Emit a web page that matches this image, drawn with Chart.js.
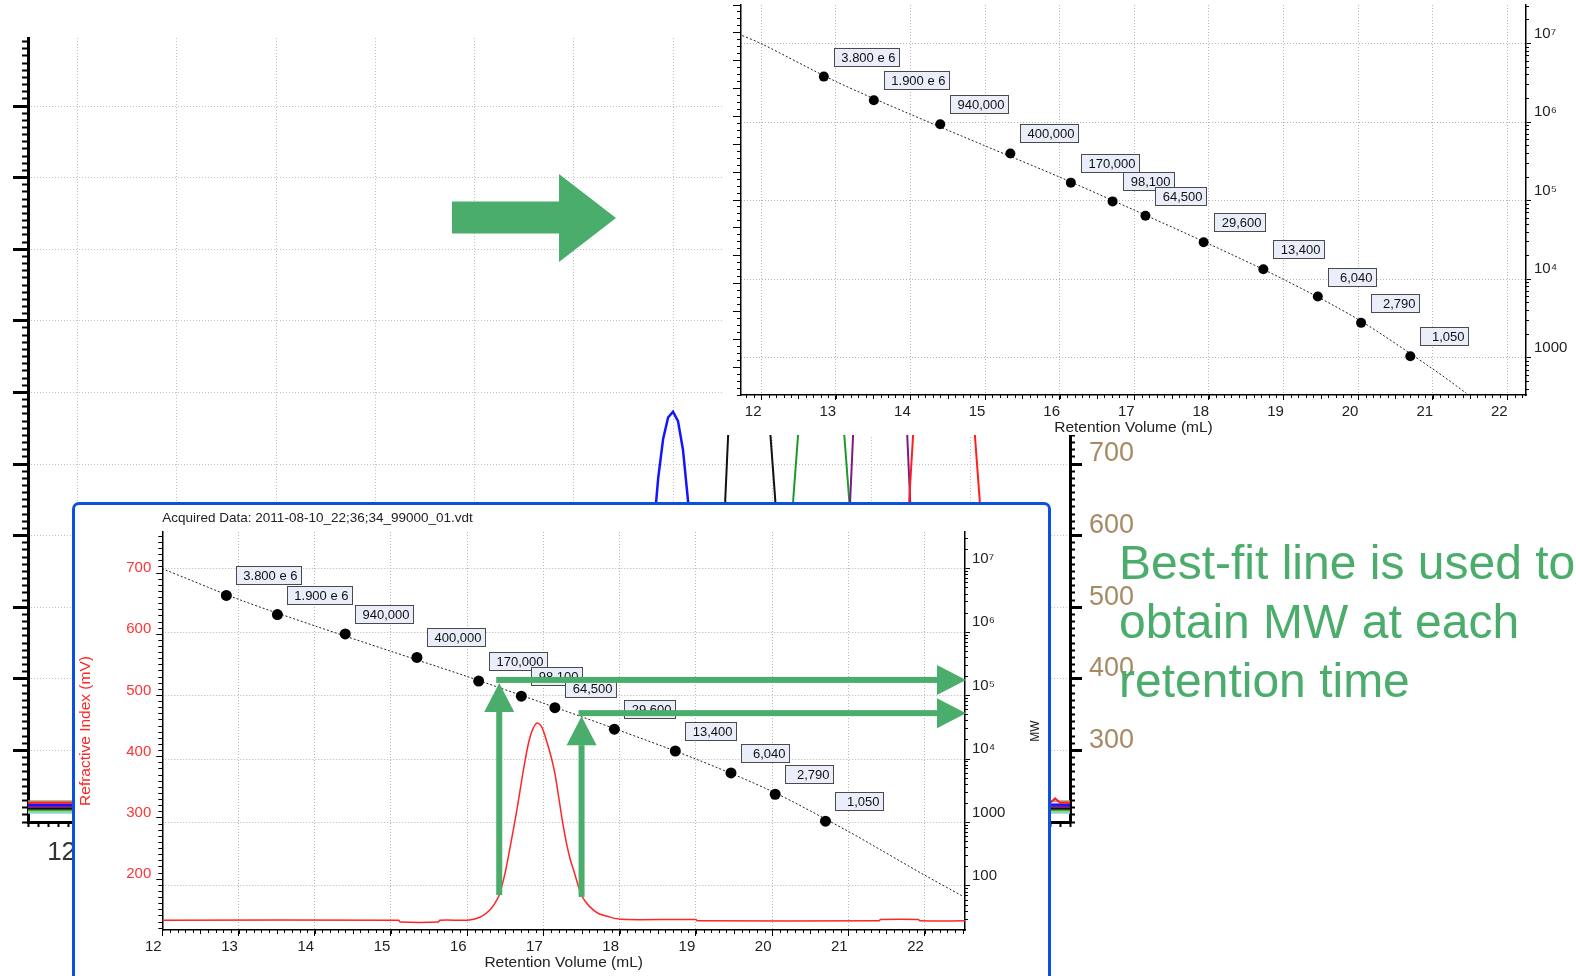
<!DOCTYPE html>
<html><head><meta charset="utf-8">
<script src="https://cdn.jsdelivr.net/npm/chart.js@4.4.1/dist/chart.umd.min.js"></script>
<style>
html,body{margin:0;padding:0;background:#fff;}
body{width:1576px;height:976px;position:relative;overflow:hidden;font-family:"Liberation Sans",Arial,sans-serif;}
.abs{position:absolute;}
</style></head><body>
<canvas id="bg" class="abs" style="left:0;top:0" width="1576" height="976"></canvas>
<svg class="abs" style="left:0;top:0" width="1576" height="976"><polygon points="452,201.5 559,201.5 559,174 616,218 559,262 559,233.5 452,233.5" fill="#4bad6b"/></svg>
<div class="abs" style="left:722px;top:0;width:854px;height:435px;background:#fff"></div>
<canvas id="cal" class="abs" style="left:722px;top:0" width="854" height="435"></canvas>
<div class="abs" style="left:72px;top:502px;width:979px;height:520px;box-sizing:border-box;border:3px solid #0b50e3;border-radius:7px 7px 0 0;background:#fff"></div>
<canvas id="ri" class="abs" style="left:76px;top:505px" width="970" height="471"></canvas>
<div class="abs" id="note" style="left:1119px;top:533px;font-size:48px;line-height:59px;color:#4bad6b;white-space:nowrap">Best-fit line is used to<br>obtain MW at each<br>retention time</div>
<script>
// ---------------- DATA ----------------
// calibration standards
const calVolume = [12.84, 13.51, 14.40, 15.34, 16.15, 16.71, 17.15, 17.93, 18.73, 19.46, 20.04, 20.70];
const calMW = [3800000, 1900000, 940000, 400000, 170000, 98100, 64500, 29600, 13400, 6040, 2790, 1050];
const calLabels = ['3.800 e 6', '1.900 e 6', '940,000', '400,000', '170,000', '98,100', '64,500', '29,600', '13,400', '6,040', '2,790', '1,050'];
// best-fit calibration curve
const fitVolume = [11.7, 12, 13, 14, 15, 16, 17, 18, 19, 20, 21, 21.45, 22, 22.5];
const fitMW = [13200000, 10000000, 3300000, 1260000, 500000, 200000, 76000, 28200, 10000, 3090, 724, 355, 148, 69];
const calFitEnd = 21.45;
// RI chromatogram of the sample
const riVolume = [12, 15.1, 15.12, 15.62, 15.64, 16.0, 16.1, 16.2, 16.3, 16.36, 16.42, 16.5, 16.58, 16.65, 16.73, 16.8, 16.86, 16.92, 16.98, 17.05, 17.1, 17.15, 17.2, 17.25, 17.3, 17.35, 17.41, 17.46, 17.51, 17.6, 17.72, 17.85, 17.93, 18.1, 19.0, 19.02, 21.4, 21.42, 21.92, 21.94, 22.53];
const riSignal = [133, 133, 130, 130, 133, 133, 135, 140, 150, 160, 174, 212, 264, 312, 373, 420, 445, 455, 448, 422, 400, 373, 334, 294, 260, 233, 209, 188, 171, 156, 144, 139, 136, 134, 134, 132, 132, 134, 134, 132, 132];
const arrowVolume = [16.42, 17.50];
const arrowBaseRI = [174, 171];
const arrowMW = [177000, 53000];
// tick values / labels
const volumeTicks = [12, 13, 14, 15, 16, 17, 18, 19, 20, 21, 22];
const volumeTickLabels = ['12', '13', '14', '15', '16', '17', '18', '19', '20', '21', '22'];
const mwTicks = [100, 1000, 10000, 100000, 1000000, 10000000];
const mwTickLabels = ['100', '1000', '10\u2074', '10\u2075', '10\u2076', '10\u2077'];
const riTicks = [200, 300, 400, 500, 600, 700];
const calLeftTicks = [1, 2, 3, 4, 5, 6, 7, 8, 9, 10, 11, 12, 13, 14];
const bgVolumeTicks = [12, 13, 14, 15, 16, 17, 18, 19, 20, 21];
const bgSignalTicks = [300, 400, 500, 600, 700, 800, 900, 1000, 1100, 1200];
// background standards overlay traces
const blueVolume = [11.5, 17.5, 17.6, 17.7, 17.75, 17.8, 17.85, 17.9, 17.95, 18.0, 18.05, 18.1, 18.15, 18.2, 18.25, 18.3, 18.4, 18.5, 22];
const blueSignal = [224, 224, 300, 430, 520, 600, 680, 735, 765, 773, 760, 720, 650, 570, 480, 390, 260, 226, 224];
const blackVolume = [11.5, 18.45, 18.5, 18.526, 18.556, 18.6, 18.77, 18.94, 18.98, 19.03, 19.08, 19.15, 22];
const blackSignal = [219, 219, 400, 650, 743, 900, 1150, 900, 743, 650, 400, 219, 219];
const greenVolume = [11.5, 19.1, 19.15, 19.211, 19.261, 19.3, 19.49, 19.68, 19.724, 19.775, 19.83, 19.9, 22];
const greenSignal = [217, 217, 400, 650, 743, 900, 1150, 900, 743, 650, 400, 217, 217];
const purpleVolume = [11.5, 19.7, 19.75, 19.785, 19.815, 19.86, 20.09, 20.32, 20.359, 20.389, 20.43, 20.5, 22];
const purpleSignal = [221, 221, 400, 650, 743, 900, 1150, 900, 743, 650, 400, 221, 221];
const redVolume = [11.5, 20.3, 20.34, 20.38, 20.42, 20.47, 20.74, 21.0, 21.04, 21.09, 21.14, 21.2, 21.8, 21.85, 21.9, 22];
const redSignal = [227, 227, 400, 650, 743, 900, 1150, 900, 743, 650, 400, 227, 227, 233, 227, 227];
const tanVolume = [11.5, 22];
const tanSignal = [229, 229];
const lgreenVolume = [11.5, 22];
const lgreenSignal = [215, 215];
const cyanVolume = [11.5, 22];
const cyanSignal = [213, 213];
const acquiredTitle = 'Acquired Data: 2011-08-10_22;36;34_99000_01.vdt';

// ---------------- HELPERS ----------------
const FONT = '"Liberation Sans", Arial, sans-serif';
Chart.defaults.font.family = FONT;
Chart.defaults.color = '#222';
const GREEN = '#4bad6b';
const pts = (xs, ys) => xs.map((x, i) => ({x: x, y: ys[i]}));
const fixW = w => s => { s.width = w; s.paddingTop = s.paddingBottom = s.paddingLeft = s.paddingRight = 0; };
const fixH = h => s => { s.height = h; s.paddingTop = s.paddingBottom = s.paddingLeft = s.paddingRight = 0; };
const setTicks = vals => s => { s.ticks = vals.filter(v => v >= s.min && v <= s.max).map(v => ({value: v})); };
// minor tick positions (axis decoration, not data)
const steps = (from, to, step) => { const r = []; for (let i = Math.round(from / step); i * step <= to + 1e-9; i++) r.push(+(i * step).toFixed(4)); return r; };
const logMinor = (lo, hi) => { const r = []; for (let d = lo; d <= hi; d++) for (let k = 2; k <= 9; k++) r.push(k * Math.pow(10, d)); return r; };
// zero-width companion axis that only draws tick marks
const minorAxis = (type, position, min, max, values, len, width) => ({
  type: type, position: position, min: min, max: max, weight: 0, afterFit: fixW(0), afterBuildTicks: setTicks(values),
  ticks: {display: false},
  grid: {drawOnChartArea: false, drawTicks: true, tickLength: len, tickWidth: width, tickColor: '#000'},
  border: {display: false}
});

// minor tick marks along horizontal axes
function minorTicksX(list) {
  return {
    id: 'minorTicksX',
    afterDraw(chart) {
      const ctx = chart.ctx;
      list.forEach(m => {
        const s = chart.scales[m.scale];
        const a = Math.ceil(s.min / m.step - 1e-9), b = Math.floor(s.max / m.step + 1e-9);
        ctx.save();
        ctx.setLineDash([]);
        ctx.strokeStyle = '#000';
        ctx.lineWidth = m.width || 1;
        ctx.beginPath();
        for (let i = a; i <= b; i++) {
          const v = i * m.step;
          const p = Math.round(s.getPixelForValue(v)) + 0.5;
          let len = m.len;
          if (m.midEvery && Math.abs(v / m.midEvery - Math.round(v / m.midEvery)) < 1e-6) len = m.midLen;
          ctx.moveTo(p, s.top); ctx.lineTo(p, s.top + len);
        }
        ctx.stroke();
        ctx.restore();
      });
    }
  };
}

// value-label boxes, reading arrows and rotated right-axis title
function annotations(o) {
  return {
    id: 'annot',
    afterDatasetsDraw(chart) {
      const ctx = chart.ctx;
      if (o.labels) {
        const meta = chart.getDatasetMeta(o.pointsIndex);
        ctx.save();
        ctx.font = '13px ' + FONT;
        meta.data.forEach((pt, i) => {
          const t = o.labels[i];
          const w = Math.round(Math.max(ctx.measureText(t).width + 11, 48));
          const h = 18;
          const x = Math.round(pt.x + 10) + 0.5, y = Math.round(pt.y - 11 - h) + 0.5;
          ctx.fillStyle = '#e9eefa'; ctx.fillRect(x, y, w, h);
          ctx.strokeStyle = '#4a4a4a'; ctx.lineWidth = 1; ctx.strokeRect(x, y, w, h);
          ctx.fillStyle = '#111'; ctx.textAlign = 'right'; ctx.textBaseline = 'middle';
          ctx.fillText(t, x + w - 4, y + h / 2 + 0.5);
        });
        ctx.restore();
      }
      if (o.arrows) {
        const a = o.arrows, xs = chart.scales.x, ri = chart.scales.yRI, mw = chart.scales.yMW;
        const sw = 6, hl = 29, hw = 30;
        ctx.save();
        ctx.fillStyle = a.color;
        a.volume.forEach((v, i) => {
          const x = xs.getPixelForValue(v);
          const yb = ri.getPixelForValue(a.baseRI[i]);
          const yh = mw.getPixelForValue(a.mw[i]);
          const tipX = chart.chartArea.right + 1;
          ctx.fillRect(x - sw / 2, yh - sw / 2, tipX - hl - (x - sw / 2), sw);
          ctx.beginPath(); ctx.moveTo(tipX - hl, yh - hw / 2); ctx.lineTo(tipX, yh); ctx.lineTo(tipX - hl, yh + hw / 2); ctx.closePath(); ctx.fill();
          const tipY = yh + sw / 2;
          ctx.fillRect(x - sw / 2, tipY + hl, sw, yb - tipY - hl);
          ctx.beginPath(); ctx.moveTo(x - hw / 2, tipY + hl); ctx.lineTo(x, tipY); ctx.lineTo(x + hw / 2, tipY + hl); ctx.closePath(); ctx.fill();
        });
        ctx.restore();
      }
      if (o.rightTitle) {
        const r = o.rightTitle, s = chart.scales[r.scale];
        ctx.save();
        ctx.translate(s.right - r.offset, (s.top + s.bottom) / 2);
        ctx.rotate(-Math.PI / 2);
        ctx.font = r.size + 'px ' + FONT;
        ctx.fillStyle = r.color;
        ctx.textAlign = 'center'; ctx.textBaseline = 'middle';
        ctx.fillText(r.text, 0, 0);
        ctx.restore();
      }
    }
  };
}

const base = {responsive: false, animation: false, devicePixelRatio: 1, events: []};
const noLegend = {legend: {display: false}, tooltip: {enabled: false}};
const trace = (xs, ys, color, w) => ({data: pts(xs, ys), borderColor: color, borderWidth: w || 2, pointRadius: 0, tension: 0, fill: false});

// ---------------- BACKGROUND OVERLAY CHART ----------------
const bgMinor10 = steps(200, 1290, 10);
const bgMinor50 = steps(250, 1250, 100);
new Chart(document.getElementById('bg'), {
  type: 'line',
  data: {datasets: [
    trace(redVolume, redSignal, '#ff1f1f'),
    trace(tanVolume, tanSignal, '#b49c7a'),
    trace(purpleVolume, purpleSignal, '#7d1a83'),
    trace(blackVolume, blackSignal, '#111111'),
    trace(greenVolume, greenSignal, '#1e9a2a'),
    trace(lgreenVolume, lgreenSignal, '#9bd46c'),
    trace(cyanVolume, cyanSignal, '#8fd0e2'),
    trace(blueVolume, blueSignal, '#1414ff', 2.5)
  ]},
  options: Object.assign({}, base, {
    layout: {padding: {top: 38, left: 0, right: 0, bottom: 0}},
    plugins: noLegend,
    scales: {
      x: {type: 'linear', position: 'bottom', min: 11.5, max: 22, afterFit: fixH(154), afterBuildTicks: setTicks(bgVolumeTicks),
        ticks: {autoSkip: false, maxRotation: 0, font: {size: 26}, color: '#333', padding: 9, labelOffset: -16},
        grid: {color: '#c2c2c2', lineWidth: 1, tickLength: 6, tickColor: '#000', tickWidth: 2},
        border: {display: true, color: '#000', width: 3, dash: [1, 2]}},
      yL: {type: 'linear', position: 'left', weight: 2, min: 200, max: 1295, afterFit: fixW(28), afterBuildTicks: setTicks(bgSignalTicks),
        ticks: {display: false},
        grid: {drawOnChartArea: false, tickLength: 15, tickColor: '#000', tickWidth: 3},
        border: {display: true, color: '#000', width: 3}},
      yLm: minorAxis('linear', 'left', 200, 1295, bgMinor10, 6, 2),
      yLm5: minorAxis('linear', 'left', 200, 1295, bgMinor50, 10, 2),
      y: {type: 'linear', position: 'right', weight: 2, min: 200, max: 1295, afterFit: fixW(506), afterBuildTicks: setTicks(bgSignalTicks),
        ticks: {font: {size: 27}, color: '#a68a64', padding: 7, labelOffset: -10},
        grid: {color: '#c2c2c2', tickLength: 12, tickColor: '#000', tickWidth: 3},
        border: {display: true, color: '#000', width: 3, dash: [1, 2]}},
      yRm: minorAxis('linear', 'right', 200, 1295, bgMinor10, 5, 2),
      yRm5: minorAxis('linear', 'right', 200, 1295, bgMinor50, 8, 2)
    }
  }),
  plugins: [minorTicksX([{scale: 'x', step: 0.1, len: 5, width: 2}])]
});

// ---------------- CALIBRATION CHART (top right) ----------------
const calFitIdx = fitVolume.map((v, i) => i).filter(i => fitVolume[i] <= calFitEnd);
new Chart(document.getElementById('cal'), {
  type: 'line',
  data: {datasets: [
    {data: pts(calVolume, calMW), showLine: false, pointRadius: 5, pointBackgroundColor: '#000', pointBorderWidth: 0, yAxisID: 'yMW'},
    {data: calFitIdx.map(i => ({x: fitVolume[i], y: fitMW[i]})), borderColor: '#222', borderWidth: 1, borderDash: [2, 2], pointRadius: 0, tension: 0.3, yAxisID: 'yMW'}
  ]},
  options: Object.assign({}, base, {
    layout: {padding: {top: 3, left: 0, right: 0, bottom: 0}},
    plugins: noLegend,
    scales: {
      x: {type: 'linear', position: 'bottom', min: 11.73, max: 22.25, afterFit: fixH(40), afterBuildTicks: setTicks(volumeTicks),
        ticks: {autoSkip: false, maxRotation: 0, font: {size: 15}, color: '#222', padding: 3, labelOffset: -8,
          callback: v => volumeTickLabels[volumeTicks.indexOf(v)]},
        grid: {color: '#b4b4b4', tickLength: 5, tickColor: '#000'},
        border: {color: '#000', width: 1.5, dash: [1, 2]},
        title: {display: true, text: 'Retention Volume (mL)', color: '#222', font: {size: 15.5, lineHeight: 1}, padding: {top: 0, bottom: 0}}},
      yL: {type: 'linear', position: 'left', weight: 2, min: 0, max: 14, afterFit: fixW(19), afterBuildTicks: setTicks(calLeftTicks),
        ticks: {display: false},
        grid: {drawOnChartArea: false, tickLength: 8, tickColor: '#000'},
        border: {color: '#000', width: 1.5}},
      yLm: minorAxis('linear', 'left', 0, 14, steps(0, 14, 0.25), 4, 1),
      yMW: {type: 'logarithmic', position: 'right', weight: 2, min: 337, max: 31000000, afterFit: fixW(50), afterBuildTicks: setTicks(mwTicks),
        ticks: {font: {size: 15}, color: '#222', padding: 3, labelOffset: -10,
          callback: v => mwTickLabels[mwTicks.indexOf(v)]},
        grid: {color: '#b4b4b4', tickLength: 5, tickColor: '#000'},
        border: {color: '#000', width: 1.5, dash: [1, 2]}},
      yMWm: minorAxis('logarithmic', 'right', 337, 31000000, logMinor(2, 7), 3, 1)
    }
  }),
  plugins: [
    minorTicksX([{scale: 'x', step: 0.1, len: 3, midEvery: 0.5, midLen: 4}]),
    annotations({labels: calLabels, pointsIndex: 0})
  ]
});

// ---------------- SAMPLE CHROMATOGRAM (bottom left) ----------------
new Chart(document.getElementById('ri'), {
  type: 'line',
  data: {datasets: [
    {data: pts(calVolume, calMW), showLine: false, pointRadius: 5.5, pointBackgroundColor: '#000', pointBorderWidth: 0, yAxisID: 'yMW'},
    {data: pts(fitVolume, fitMW), borderColor: '#222', borderWidth: 1, borderDash: [2, 2], pointRadius: 0, tension: 0.3, yAxisID: 'yMW'},
    {data: pts(riVolume, riSignal), borderColor: '#ff2626', borderWidth: 1.5, pointRadius: 0, tension: 0.3, yAxisID: 'yRI'}
  ]},
  options: Object.assign({}, base, {
    layout: {padding: {top: 0, left: 0, right: 0, bottom: 0}},
    plugins: Object.assign({}, noLegend, {
      title: {display: true, text: acquiredTitle, align: 'start', fullSize: false, color: '#222',
        font: {size: 13.5, weight: 'normal'}, padding: {top: 5, bottom: 5.8}}
    }),
    scales: {
      x: {type: 'linear', position: 'bottom', min: 12, max: 22.53, afterFit: fixH(46), afterBuildTicks: setTicks(volumeTicks),
        ticks: {autoSkip: false, maxRotation: 0, font: {size: 15}, color: '#222', padding: 2, labelOffset: -9,
          callback: v => volumeTickLabels[volumeTicks.indexOf(v)]},
        grid: {color: '#b4b4b4', tickLength: 6, tickColor: '#000'},
        border: {color: '#000', width: 1.5, dash: [1, 2]},
        title: {display: true, text: 'Retention Volume (mL)', color: '#222', font: {size: 15.5}, padding: {top: 0, bottom: 4}}},
      yRI: {type: 'linear', position: 'left', weight: 2, min: 117, max: 767, afterFit: fixW(86.3), afterBuildTicks: setTicks(riTicks),
        ticks: {font: {size: 15}, color: '#ff3434', padding: 5, labelOffset: -5},
        grid: {drawOnChartArea: false, tickLength: 6, tickColor: '#000'},
        border: {color: '#000', width: 1.5},
        title: {display: true, text: 'Refractive Index (mV)', color: '#ff2626', font: {size: 15.5}, padding: {top: 0.5, bottom: 0}}},
      yRIm: minorAxis('linear', 'left', 117, 767, steps(120, 760, 10), 4, 1),
      yMW: {type: 'logarithmic', position: 'right', weight: 2, min: 20.2, max: 38000000, afterFit: fixW(81), afterBuildTicks: setTicks(mwTicks),
        ticks: {font: {size: 15}, color: '#222', padding: 2, labelOffset: -10,
          callback: v => mwTickLabels[mwTicks.indexOf(v)]},
        grid: {color: '#b4b4b4', tickLength: 5, tickColor: '#000'},
        border: {color: '#000', width: 1.5, dash: [1, 2]}},
      yMWm: minorAxis('logarithmic', 'right', 20.2, 38000000, logMinor(1, 7), 3, 1)
    }
  }),
  plugins: [
    minorTicksX([{scale: 'x', step: 0.1, len: 3, midEvery: 0.5, midLen: 4}]),
    annotations({labels: calLabels, pointsIndex: 0,
      arrows: {volume: arrowVolume, baseRI: arrowBaseRI, mw: arrowMW, color: GREEN},
      rightTitle: {scale: 'yMW', text: 'MW', size: 12, color: '#222', offset: 10}})
  ]
});
</script>
</body></html>
